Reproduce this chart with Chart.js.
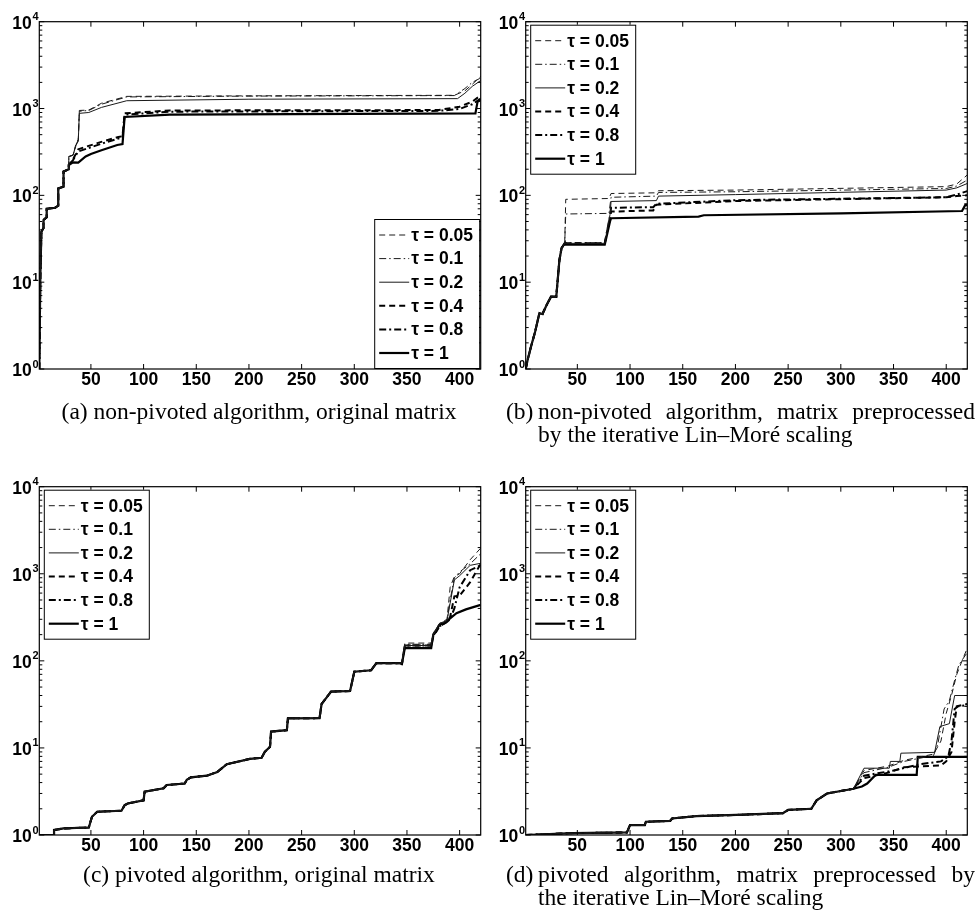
<!DOCTYPE html>
<html>
<head>
<meta charset="utf-8">
<script src="https://cdn.jsdelivr.net/npm/chart.js@4.4.0/dist/chart.umd.min.js"></script>
<style>
  body { margin: 0; background: #fff; width: 978px; height: 918px; position: relative; overflow: hidden; }
  canvas { position: absolute; }
  .cap { position: absolute; font-family: "Liberation Serif", "Times New Roman", serif; font-size: 23.5px; color: #000; white-space: nowrap; line-height: 23px; }
  .just { display: flex; justify-content: space-between; }
</style>
</head>
<body>
<canvas id="chartA" width="489" height="400" style="left:0;top:0"></canvas>
<canvas id="chartB" width="489" height="400" style="left:489px;top:0"></canvas>
<canvas id="chartC" width="489" height="410" style="left:0;top:460px"></canvas>
<canvas id="chartD" width="489" height="410" style="left:489px;top:460px"></canvas>

<div class="cap" style="left:0;width:518px;top:400px;text-align:center">(a) non-pivoted algorithm, original matrix</div>
<div class="cap" style="left:506px;top:400px">(b)</div>
<div class="cap just" style="left:538px;width:437px;top:400px"><span>non-pivoted</span><span>algorithm,</span><span>matrix</span><span>preprocessed</span></div>
<div class="cap" style="left:538px;top:423px">by the iterative Lin–Moré scaling</div>
<div class="cap" style="left:0;width:518px;top:863px;text-align:center">(c) pivoted algorithm, original matrix</div>
<div class="cap" style="left:506px;top:863px">(d)</div>
<div class="cap just" style="left:538px;width:437px;top:863px"><span>pivoted</span><span>algorithm,</span><span>matrix</span><span>preprocessed</span><span>by</span></div>
<div class="cap" style="left:538px;top:886px">the iterative Lin–Moré scaling</div>

<script>
// ---------------------------------------------------------------
// Data
// ---------------------------------------------------------------
const tauLabels = ['τ = 0.05', 'τ = 0.1', 'τ = 0.2', 'τ = 0.4', 'τ = 0.8', 'τ = 1'];
const xTicks = [50, 100, 150, 200, 250, 300, 350, 400];
const yTickVals = [1, 10, 100, 1000, 10000];
const yTickExp = ['0', '1', '2', '3', '4'];
const minorMult = [2, 3, 4, 5, 6, 7, 8, 9];

// (a) non-pivoted, original matrix
const aBaseX = [1, 2, 3, 5, 5, 8, 8, 16, 19, 19, 24, 24, 29];
const aBaseY = [1, 12, 38, 42, 52, 56, 70, 72, 76, 120, 126, 188, 200];
const a05X = [29, 33, 36, 38, 39, 48, 60, 84, 200, 395, 405, 412, 420];
const a05Y = [280, 290, 400, 440, 950, 960, 1150, 1380, 1400, 1420, 1600, 1900, 2350];
const a10X = [29, 33, 36, 38, 39, 48, 60, 84, 200, 395, 405, 412, 420];
const a10Y = [280, 290, 390, 430, 930, 950, 1120, 1360, 1390, 1410, 1700, 2000, 2250];
const a20X = [29, 33, 36, 38, 39, 48, 60, 84, 200, 398, 405, 412, 420];
const a20Y = [280, 290, 380, 420, 880, 900, 1030, 1230, 1280, 1300, 1500, 1800, 2100];
const a40X = [29, 33, 38, 59, 76, 80, 82, 125, 380, 400, 412, 420];
const a40Y = [224, 260, 340, 410, 470, 480, 880, 950, 960, 1050, 1200, 1420];
const a80X = [29, 33, 38, 59, 76, 80, 82, 125, 380, 400, 412, 420];
const a80Y = [224, 255, 320, 390, 450, 465, 850, 920, 940, 990, 1120, 1300];
const a100X = [29, 33, 38, 45, 50, 60, 75, 80, 82, 125, 415, 417, 420];
const a100Y = [224, 240, 238, 280, 300, 330, 380, 390, 800, 850, 880, 1200, 1250];

// (b) non-pivoted, Lin-More scaling
const bBaseX = [1, 3, 6, 10, 14, 17, 18, 21, 25, 30, 33, 35, 38];
const bBaseY = [1, 1.3, 1.8, 2.7, 4.4, 4.3, 4.6, 5.5, 6.8, 6.8, 18, 24.6, 28];
const b05X = [38, 39, 80, 82, 125, 127, 200, 400, 410, 420];
const b05Y = [28, 90, 92, 105, 107, 113, 115, 126, 135, 172];
const b10X = [38, 39, 80, 82, 125, 127, 200, 400, 410, 420];
const b10Y = [28, 61, 62, 95, 98, 108, 110, 120, 128, 150];
const b20X = [38, 76, 81, 82, 125, 127, 200, 400, 410, 420];
const b20Y = [28, 28, 60, 85, 87, 98, 102, 115, 122, 137];
const b40X = [38, 76, 81, 82, 122, 125, 200, 400, 410, 420];
const b40Y = [28, 28, 55, 65, 67, 78, 86, 95, 98, 100];
const b80X = [38, 76, 81, 82, 122, 125, 200, 400, 410, 420];
const b80Y = [28, 28, 58, 72, 73, 80, 88, 95, 102, 112];
const b100X = [38, 76, 81, 82, 165, 170, 300, 415, 418, 420];
const b100Y = [27, 27, 50, 54.5, 57, 59, 62, 66, 77, 77];

// (c) pivoted, original matrix
const cBaseX = [1, 15, 15, 24, 48, 51, 56, 79, 82, 85, 100, 101, 119, 122, 139, 141, 145, 160, 170, 179,
                201, 212, 215, 220, 221, 236, 237, 267, 269, 272, 278, 296, 300, 316, 321, 345];
const cBaseY = [1, 1, 1.14, 1.19, 1.22, 1.62, 1.85, 1.9, 2.2, 2.3, 2.5, 3.15, 3.44, 3.75, 3.9, 4.3, 4.6, 4.8, 5.3, 6.5,
                7.5, 7.7, 9.0, 10.3, 15.4, 16, 21.9, 22, 32, 35.6, 44.4, 45, 75, 78, 94, 94];
const c05X = [345, 348, 373, 375, 381, 388, 391, 395, 400, 410, 420];
const c05Y = [94, 160, 160, 208, 270, 300, 700, 930, 1000, 1450, 1970];
const c10X = [345, 348, 373, 375, 381, 388, 391, 395, 400, 410, 420];
const c10Y = [94, 155, 155, 200, 260, 290, 500, 900, 1050, 1300, 1700];
const c20X = [345, 348, 373, 375, 381, 388, 391, 395, 400, 410, 420];
const c20Y = [94, 150, 150, 200, 270, 290, 460, 850, 950, 1250, 1320];
const c40X = [345, 348, 373, 375, 381, 388, 391, 395, 400, 410, 420];
const c40Y = [87, 150, 150, 190, 250, 280, 320, 550, 560, 800, 1300];
const c80X = [345, 348, 373, 375, 381, 388, 391, 395, 400, 410, 420];
const c80Y = [90, 150, 150, 195, 250, 280, 300, 400, 700, 1100, 1250];
const c100X = [345, 348, 373, 375, 381, 387, 397, 406, 420];
const c100Y = [90, 140, 140, 200, 260, 280, 353, 390, 440];

// (d) pivoted, Lin-More scaling
const dBaseX = [1, 46, 97, 100, 114, 115, 138, 140, 163, 201, 245, 250, 272, 277, 287, 312];
const dBaseY = [1, 1.05, 1.07, 1.3, 1.3, 1.42, 1.45, 1.55, 1.65, 1.7, 1.78, 1.94, 2.0, 2.5, 3.0, 3.4];
const d05X = [312, 322, 345, 360, 388, 395, 400, 405, 410, 415, 420];
const d05Y = [3.4, 5.5, 6.2, 7.2, 8.5, 12, 25, 40, 70, 100, 140];
const d10X = [312, 322, 345, 360, 388, 392, 398, 403, 408, 412, 420];
const d10Y = [3.4, 5.2, 6.0, 7.0, 8.2, 11, 28, 35, 60, 90, 125];
const d20X = [312, 322, 346, 347, 356, 357, 389, 394, 403, 408, 420];
const d20Y = [3.4, 5.85, 5.85, 7.0, 7.0, 8.7, 8.9, 17.6, 19, 40, 40];
const d40X = [312, 322, 345, 360, 395, 400, 405, 408, 410, 420];
const d40Y = [3.4, 4.5, 5.2, 6.0, 6.3, 7.0, 9, 20, 30, 32];
const d80X = [312, 322, 350, 375, 395, 402, 405, 408, 411, 420];
const d80Y = [3.4, 4.8, 5.5, 6.5, 7.0, 8, 12, 28, 30, 31];
const d100X = [312, 320, 325, 333, 372, 373, 420];
const d100Y = [3.4, 3.6, 3.9, 4.9, 4.9, 7.9, 7.9];

// ---------------------------------------------------------------
// Line styles (MATLAB-like: thin -- -. -, thick -- -. -)
// ---------------------------------------------------------------
const lineStyles = [
  { color: '#1a1a1a', width: 1,   dash: [6, 4] },
  { color: '#1a1a1a', width: 1,   dash: [7, 3, 1.5, 3] },
  { color: '#1a1a1a', width: 1,   dash: [] },
  { color: '#000',    width: 2,   dash: [6, 4] },
  { color: '#000',    width: 2,   dash: [7, 3, 2, 3] },
  { color: '#000',    width: 2.2, dash: [] }
];

const FONT = '"Liberation Sans", Arial, Helvetica, sans-serif';

function toPoints(xs, ys) {
  return xs.map((x, i) => ({ x: x, y: ys[i] }));
}

function buildDatasets(series) {
  return series.map((s, i) => ({
    label: tauLabels[i],
    data: toPoints(s[0], s[1]),
    borderColor: lineStyles[i].color,
    borderWidth: lineStyles[i].width,
    borderDash: lineStyles[i].dash,
    pointRadius: 0,
    tension: 0,
    fill: false
  }));
}

// frame, inward ticks, y labels (10^n) and legend box
const framePlugin = {
  id: 'frame',
  afterDraw(chart, args, opts) {
    const ctx = chart.ctx;
    const a = chart.chartArea;
    const xs = chart.scales.x, ys = chart.scales.y;
    ctx.save();
    ctx.strokeStyle = '#000';
    ctx.lineWidth = 1.2;
    ctx.strokeRect(a.left, a.top, a.right - a.left, a.bottom - a.top);

    ctx.lineWidth = 1;
    const seg = (x1, y1, x2, y2) => { ctx.beginPath(); ctx.moveTo(x1, y1); ctx.lineTo(x2, y2); ctx.stroke(); };
    xTicks.forEach(v => {
      const px = xs.getPixelForValue(v);
      seg(px, a.bottom, px, a.bottom - 5);
      seg(px, a.top, px, a.top + 5);
    });
    yTickVals.forEach((v, i) => {
      const py = ys.getPixelForValue(v);
      seg(a.left, py, a.left + 5, py);
      seg(a.right, py, a.right - 5, py);
      if (i < yTickVals.length - 1) {
        minorMult.forEach(m => {
          const pm = ys.getPixelForValue(v * m);
          seg(a.left, pm, a.left + 3, pm);
          seg(a.right, pm, a.right - 3, pm);
        });
      }
    });

    // y tick labels: bold "10" with raised exponent
    ctx.fillStyle = '#000';
    yTickVals.forEach((v, i) => {
      const py = ys.getPixelForValue(v);
      ctx.font = 'bold 17.5px ' + FONT;
      ctx.textAlign = 'right';
      ctx.textBaseline = 'alphabetic';
      ctx.fillText('10', a.left - 7.5, py + 7);
      ctx.font = 'bold 11px ' + FONT;
      ctx.textAlign = 'left';
      ctx.fillText(yTickExp[i], a.left - 6.8, py - 1.5);
    });

    // legend
    const bw = 105, bh = 149;
    let bx, by;
    if (opts.corner === 'br') { bx = a.right - 1.5 - bw; by = a.bottom - 1 - bh; }
    else { bx = a.left + 4.5; by = a.top + 3; }
    ctx.fillStyle = '#fff';
    ctx.fillRect(bx, by, bw, bh);
    ctx.lineWidth = 1;
    ctx.strokeStyle = '#000';
    ctx.strokeRect(bx + 0.5, by + 0.5, bw, bh);
    chart.data.datasets.forEach((ds, i) => {
      const cy = by + 16 + i * 23.6;
      ctx.save();
      ctx.strokeStyle = ds.borderColor;
      ctx.lineWidth = ds.borderWidth;
      ctx.setLineDash(ds.borderDash);
      seg(bx + 5, cy, bx + 35, cy);
      ctx.restore();
      ctx.fillStyle = '#000';
      ctx.font = 'bold 17.5px ' + FONT;
      ctx.textAlign = 'left';
      ctx.textBaseline = 'middle';
      ctx.fillText(ds.label, bx + 37, cy + 1);
    });
    ctx.restore();
  }
};

function makeChart(id, series, geom) {
  const canvas = document.getElementById(id);
  return new Chart(canvas, {
    type: 'line',
    data: { datasets: buildDatasets(series) },
    options: {
      responsive: false,
      animation: false,
      devicePixelRatio: 1,
      layout: { padding: { top: geom.top, right: geom.right, left: 0, bottom: 0 } },
      plugins: {
        legend: { display: false },
        tooltip: { enabled: false },
        frame: { corner: geom.corner }
      },
      scales: {
        x: {
          type: 'linear', min: 1, max: 420,
          grid: { display: false, drawTicks: false },
          border: { display: false },
          ticks: { color: '#000', padding: 1, font: { family: FONT, size: 17.5, weight: 'bold' } },
          afterBuildTicks: s => { s.ticks = xTicks.map(v => ({ value: v })); },
          afterFit: s => { s.height = geom.xh; }
        },
        y: {
          type: 'logarithmic', min: 1, max: 10000,
          grid: { display: false, drawTicks: false },
          border: { display: false },
          ticks: { display: false },
          afterBuildTicks: s => { s.ticks = yTickVals.map(v => ({ value: v })); },
          afterFit: s => { s.width = geom.left; }
        }
      }
    },
    plugins: [framePlugin]
  });
}

makeChart('chartA', [[aBaseX.concat(a05X), aBaseY.concat(a05Y)], [aBaseX.concat(a10X), aBaseY.concat(a10Y)],
  [aBaseX.concat(a20X), aBaseY.concat(a20Y)], [aBaseX.concat(a40X), aBaseY.concat(a40Y)],
  [aBaseX.concat(a80X), aBaseY.concat(a80Y)], [aBaseX.concat(a100X), aBaseY.concat(a100Y)]],
  { top: 21.7, right: 8.3, left: 39.3, xh: 31, corner: 'br' });

makeChart('chartB', [[bBaseX.concat(b05X), bBaseY.concat(b05Y)], [bBaseX.concat(b10X), bBaseY.concat(b10Y)],
  [bBaseX.concat(b20X), bBaseY.concat(b20Y)], [bBaseX.concat(b40X), bBaseY.concat(b40Y)],
  [bBaseX.concat(b80X), bBaseY.concat(b80Y)], [bBaseX.concat(b100X), bBaseY.concat(b100Y)]],
  { top: 21.7, right: 10.7, left: 36.7, xh: 31, corner: 'tl' });

makeChart('chartC', [[cBaseX.concat(c05X), cBaseY.concat(c05Y)], [cBaseX.concat(c10X), cBaseY.concat(c10Y)],
  [cBaseX.concat(c20X), cBaseY.concat(c20Y)], [cBaseX.concat(c40X), cBaseY.concat(c40Y)],
  [cBaseX.concat(c80X), cBaseY.concat(c80Y)], [cBaseX.concat(c100X), cBaseY.concat(c100Y)]],
  { top: 26.7, right: 8.3, left: 39.3, xh: 35, corner: 'tl' });

makeChart('chartD', [[dBaseX.concat(d05X), dBaseY.concat(d05Y)], [dBaseX.concat(d10X), dBaseY.concat(d10Y)],
  [dBaseX.concat(d20X), dBaseY.concat(d20Y)], [dBaseX.concat(d40X), dBaseY.concat(d40Y)],
  [dBaseX.concat(d80X), dBaseY.concat(d80Y)], [dBaseX.concat(d100X), dBaseY.concat(d100Y)]],
  { top: 26.7, right: 10.7, left: 36.7, xh: 35, corner: 'tl' });
</script>
</body>
</html>
